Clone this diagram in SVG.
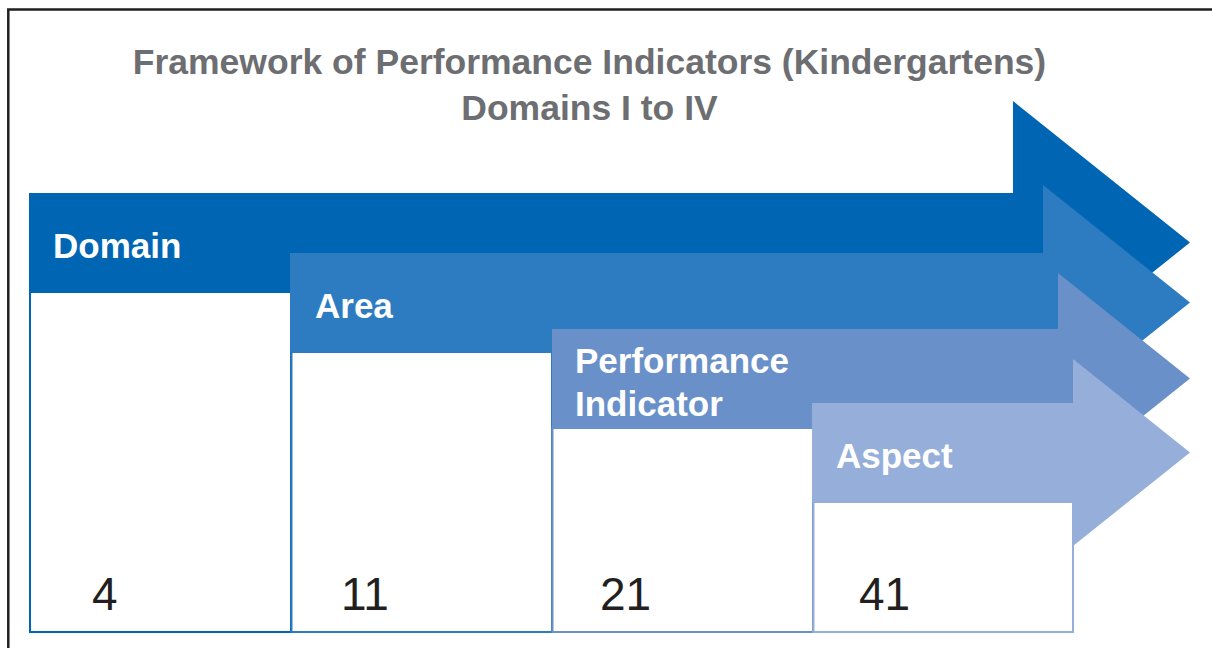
<svg xmlns="http://www.w3.org/2000/svg" width="1212" height="648" viewBox="0 0 1212 648">
<style>
.title{font-family:"Liberation Sans",Arial,sans-serif;font-weight:bold;font-size:35.5px;fill:#6D6E71;text-anchor:middle}
.lbl{font-family:"Liberation Sans",Arial,sans-serif;font-weight:bold;font-size:35px;fill:#FFFFFF}
.num{font-family:"Liberation Sans",Arial,sans-serif;font-size:46px;fill:#231F20}
.box{fill:#FFFFFF;stroke-width:2}
</style>
<rect width="1212" height="648" fill="#FFFFFF"/>
<path d="M8.3,648 V9.6 H1212" fill="none" stroke="#231F20" stroke-width="2.5"/>
<g id="title">
<text class="title" x="589.5" y="73.5">Framework of Performance Indicators (Kindergartens)</text>
<text class="title" x="589.5" y="120">Domains I to IV</text>
</g>
<g id="domain">
<polygon points="29,193 1013,193 1013,101 1190,242.5 1013,384 1013,292 29,292" fill="#0066B3"/>
<rect class="box" x="30" y="292" width="261" height="340" stroke="#0066B3"/>
<text class="lbl" x="53" y="258">Domain</text>
<text class="num" x="92" y="610">4</text>
</g>
<g id="area">
<polygon points="290,253 1043,253 1043,185 1190,302.5 1043,420 1043,352 290,352" fill="#2D7BC0"/>
<rect class="box" x="291.5" y="352" width="260.5" height="280" stroke="#2D7BC0"/>
<text class="lbl" x="315" y="318">Area</text>
<text class="num" x="341" y="610">11</text>
</g>
<g id="performance-indicator">
<polygon points="552,329 1058,329 1058,273 1190,378.5 1058,484 1058,428 552,428" fill="#6A90C9"/>
<rect class="box" x="552.5" y="428" width="260.5" height="204" stroke="#6A90C9"/>
<text class="lbl" x="575" y="372.5">Performance</text>
<text class="lbl" x="575" y="416">Indicator</text>
<text class="num" x="600" y="610">21</text>
</g>
<g id="aspect">
<polygon points="812,403 1073,403 1073,359 1190,452.5 1073,546 1073,502 812,502" fill="#95AFDA"/>
<rect class="box" x="813.5" y="502" width="259.5" height="130" stroke="#95AFDA"/>
<text class="lbl" x="836" y="467.5">Aspect</text>
<text class="num" x="859" y="610">41</text>
</g>
<g id="connectors"></g>
</svg>
